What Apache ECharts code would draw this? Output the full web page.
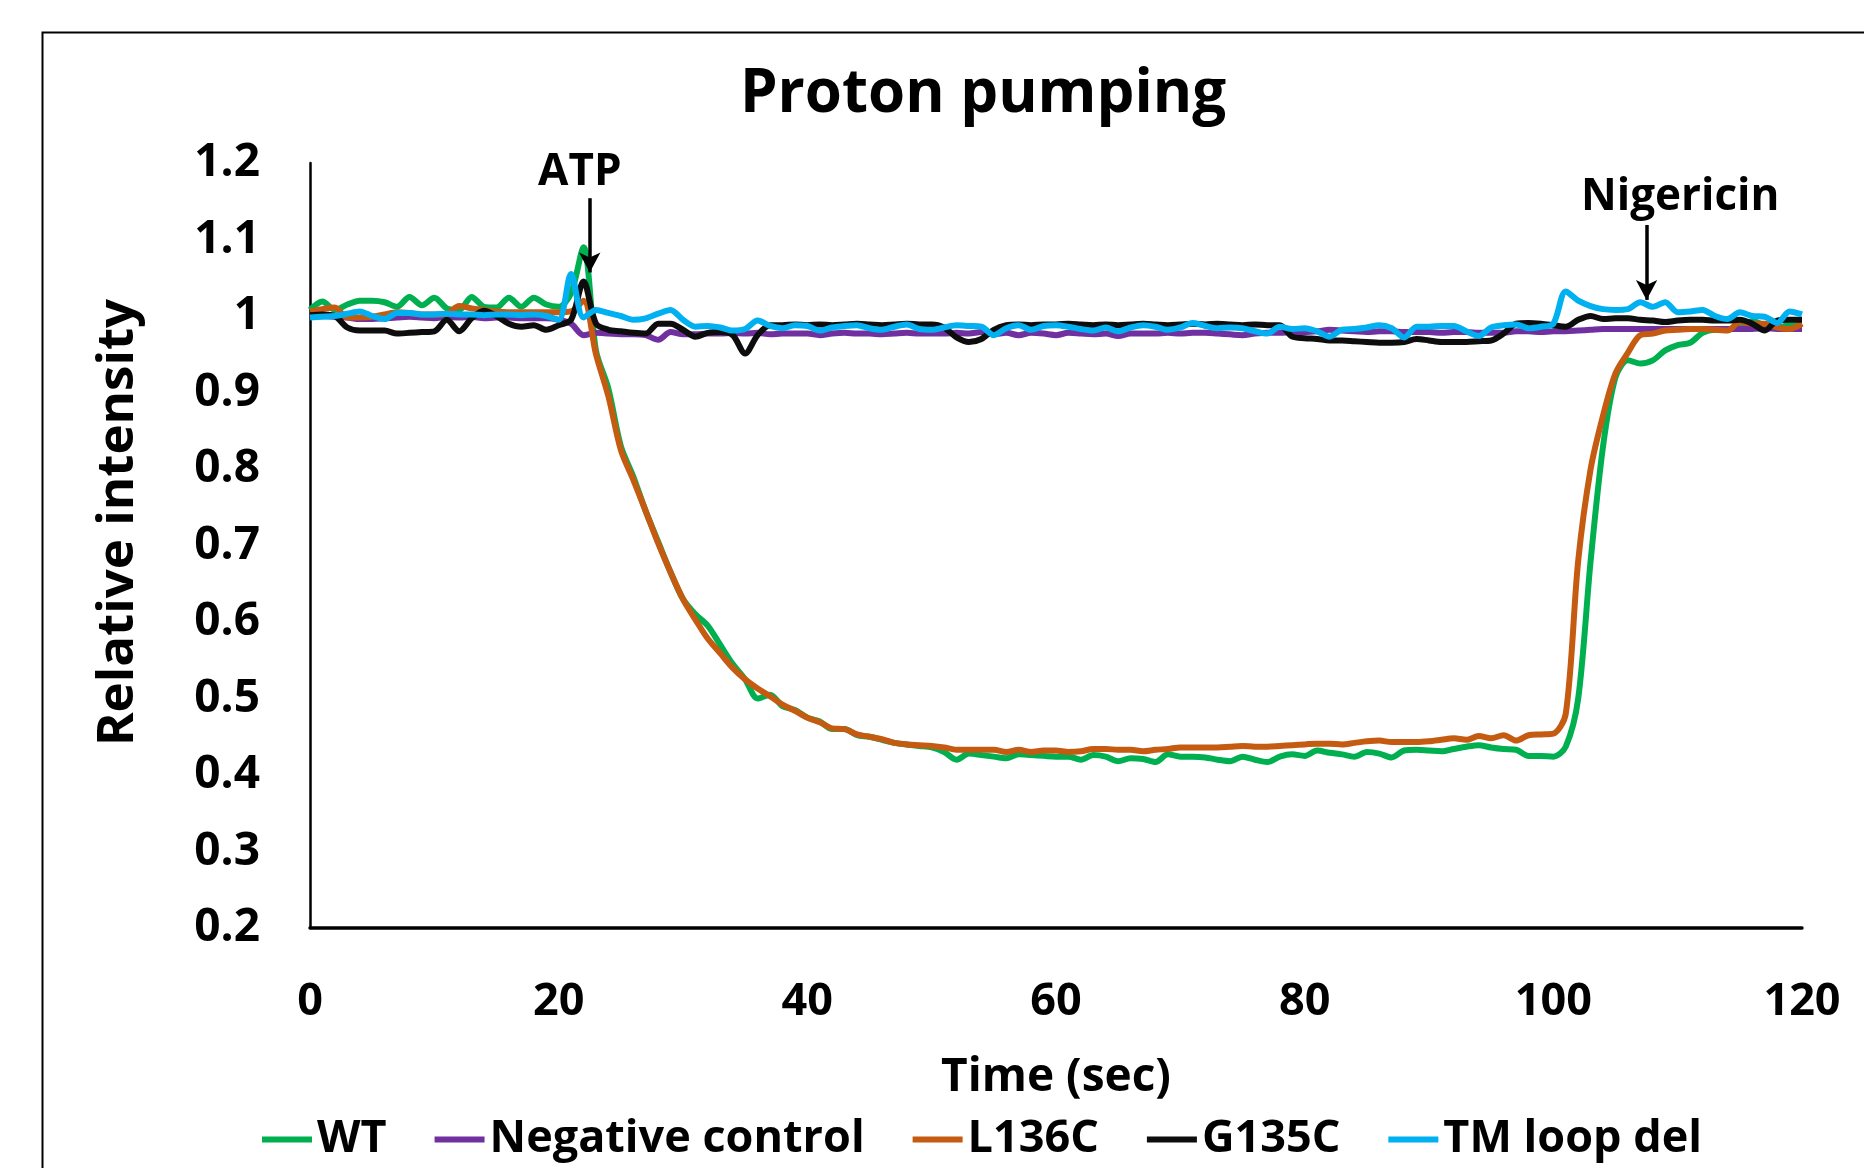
<!DOCTYPE html>
<html lang="en">
<head>
    <meta charset="UTF-8">
    <title>Proton pumping</title>
    <script src="https://cdn.jsdelivr.net/npm/echarts@6/dist/echarts.min.js"></script>
    <style>
        html, body { margin: 0; padding: 0; background: #fff; }
        #main { width: 1864px; height: 1168px; }
    </style>
</head>
<body>
<div id="main"></div>
<script type="text/javascript">
    // series names (legend order = draw order)
    var seriesNames = ['WT', 'Negative control', 'L136C', 'G135C', 'TM loop del'];
    var seriesColors = ['#00B050', '#7030A0', '#C55A11', '#0D0D0D', '#00B0F0'];

    // time axis, one reading per second (0..120)
    var times = [];
    for (var s = 0; s <= 120; s++) times.push(s);

    var wt = [
        1.008, 1.019, 1.008, 1.015, 1.020, 1.020, 1.018, 1.012, 1.025, 1.014,
        1.024, 1.010, 1.008, 1.025, 1.012, 1.011, 1.024, 1.012, 1.024, 1.015,
        1.012, 1.030, 1.090, 0.955, 0.905, 0.830, 0.790, 0.745, 0.705, 0.665,
        0.630, 0.610, 0.595, 0.570, 0.545, 0.525, 0.500, 0.505, 0.490, 0.485,
        0.475, 0.470, 0.460, 0.460, 0.452, 0.450, 0.446, 0.442, 0.440, 0.438,
        0.436, 0.430, 0.420, 0.428, 0.426, 0.424, 0.422, 0.427, 0.426, 0.425,
        0.424, 0.424, 0.420, 0.426, 0.424, 0.418, 0.422, 0.421, 0.417, 0.427,
        0.424, 0.424, 0.423, 0.420, 0.418, 0.424, 0.420, 0.417, 0.424, 0.427,
        0.425, 0.432, 0.429, 0.427, 0.424, 0.430, 0.428, 0.423, 0.432, 0.433,
        0.432, 0.431, 0.434, 0.437, 0.439, 0.436, 0.434, 0.433, 0.425, 0.425,
        0.424, 0.437, 0.500, 0.680, 0.830, 0.920, 0.942, 0.938, 0.942, 0.955,
        0.962, 0.965, 0.978, 0.982, 0.982, 0.986, 0.993, 0.988, 0.985, 0.988,
        0.988
    ];
    var negativeControl = [
        1.000, 1.000, 0.999, 0.998, 0.996, 0.996, 0.997, 0.998, 0.999, 0.998,
        0.997, 0.999, 0.998, 0.999, 0.997, 0.998, 0.998, 0.997, 0.997, 0.997,
        0.995, 0.990, 0.975, 0.978, 0.977, 0.976, 0.976, 0.975, 0.969, 0.979,
        0.976, 0.976, 0.977, 0.977, 0.978, 0.977, 0.978, 0.976, 0.977, 0.977,
        0.977, 0.975, 0.977, 0.978, 0.977, 0.977, 0.976, 0.977, 0.978, 0.977,
        0.977, 0.977, 0.978, 0.977, 0.979, 0.976, 0.978, 0.975, 0.978, 0.977,
        0.975, 0.978, 0.977, 0.976, 0.977, 0.974, 0.977, 0.977, 0.977, 0.978,
        0.977, 0.978, 0.978, 0.977, 0.976, 0.975, 0.977, 0.978, 0.978, 0.979,
        0.979, 0.980, 0.982, 0.981, 0.980, 0.979, 0.980, 0.980, 0.979, 0.979,
        0.979, 0.978, 0.979, 0.979, 0.978, 0.978, 0.978, 0.980, 0.980, 0.979,
        0.980, 0.980, 0.981, 0.982, 0.983, 0.983, 0.983, 0.983, 0.983, 0.983,
        0.983, 0.983, 0.983, 0.983, 0.983, 0.983, 0.983, 0.984, 0.983, 0.983,
        0.983
    ];
    var l136c = [
        1.006, 1.009, 1.011, 0.998, 0.998, 0.999, 1.002, 1.005, 1.004, 1.002,
        1.002, 1.003, 1.013, 1.010, 1.008, 1.006, 1.005, 1.005, 1.005, 1.005,
        1.005, 1.006, 1.020, 0.950, 0.895, 0.825, 0.786, 0.745, 0.703, 0.665,
        0.630, 0.603, 0.578, 0.559, 0.540, 0.525, 0.513, 0.503, 0.492, 0.484,
        0.475, 0.469, 0.461, 0.460, 0.453, 0.450, 0.447, 0.442, 0.440, 0.439,
        0.438, 0.436, 0.433, 0.433, 0.433, 0.433, 0.430, 0.433, 0.430, 0.432,
        0.432, 0.430, 0.431, 0.434, 0.434, 0.433, 0.433, 0.431, 0.433, 0.434,
        0.436, 0.436, 0.436, 0.436, 0.437, 0.438, 0.437, 0.437, 0.438, 0.439,
        0.440, 0.441, 0.441, 0.440, 0.442, 0.444, 0.445, 0.443, 0.443, 0.443,
        0.444, 0.446, 0.448, 0.446, 0.451, 0.448, 0.452, 0.445, 0.452, 0.453,
        0.454, 0.480, 0.680, 0.800, 0.870, 0.925, 0.952, 0.975, 0.977, 0.981,
        0.982, 0.983, 0.983, 0.982, 0.981, 0.992, 0.990, 0.990, 0.985, 0.983,
        0.990
    ];
    var g135c = [
        1.001, 1.002, 1.000, 0.985, 0.981, 0.981, 0.981, 0.977, 0.978, 0.979,
        0.980, 0.995, 0.980, 0.997, 1.007, 1.000, 0.990, 0.986, 0.988, 0.982,
        0.988, 0.995, 1.045, 0.990, 0.982, 0.980, 0.978, 0.977, 0.990, 0.990,
        0.982, 0.973, 0.978, 0.979, 0.975, 0.951, 0.975, 0.988, 0.988, 0.989,
        0.988, 0.989, 0.988, 0.989, 0.990, 0.989, 0.988, 0.989, 0.990, 0.989,
        0.989, 0.985, 0.972, 0.966, 0.970, 0.982, 0.988, 0.989, 0.988, 0.989,
        0.989, 0.990, 0.989, 0.988, 0.989, 0.988, 0.989, 0.990, 0.989, 0.988,
        0.989, 0.990, 0.989, 0.990, 0.989, 0.988, 0.989, 0.988, 0.988, 0.973,
        0.971, 0.970, 0.968, 0.968, 0.967, 0.966, 0.965, 0.965, 0.966, 0.970,
        0.968, 0.966, 0.966, 0.966, 0.967, 0.968, 0.977, 0.990, 0.991, 0.990,
        0.988, 0.986, 0.995, 1.000, 0.996, 0.997, 0.997, 0.995, 0.994, 0.992,
        0.994, 0.995, 0.995, 0.994, 0.994, 0.995, 0.990, 0.981, 0.994, 0.995,
        0.995
    ];
    var tmLoopDel = [
        0.998, 0.999, 1.000, 1.003, 1.006, 1.000, 0.996, 1.004, 1.004, 1.002,
        1.002, 1.003, 1.002, 1.002, 1.001, 1.002, 1.002, 1.001, 1.002, 1.000,
        0.995, 1.055, 0.998, 1.008, 1.004, 1.000, 0.995, 0.997, 1.003, 1.008,
        0.995, 0.986, 0.987, 0.985, 0.981, 0.983, 0.994, 0.987, 0.984, 0.988,
        0.987, 0.981, 0.985, 0.987, 0.988, 0.984, 0.982, 0.986, 0.989, 0.983,
        0.982, 0.985, 0.988, 0.987, 0.986, 0.975, 0.984, 0.988, 0.982, 0.987,
        0.988, 0.986, 0.983, 0.981, 0.985, 0.980, 0.985, 0.988, 0.986, 0.982,
        0.985, 0.991, 0.987, 0.984, 0.985, 0.984, 0.980, 0.977, 0.986, 0.983,
        0.984, 0.980, 0.973, 0.982, 0.983, 0.985, 0.988, 0.984, 0.972, 0.986,
        0.986, 0.987, 0.987, 0.980, 0.974, 0.985, 0.988, 0.989, 0.984, 0.986,
        0.990, 1.032, 1.020, 1.013, 1.009, 1.008, 1.009, 1.018, 1.012, 1.018,
        1.005, 1.006, 1.008, 1.000, 0.996, 1.005, 1.000, 0.999, 0.991, 1.006,
        1.002
    ];
    var allValues = [wt, negativeControl, l136c, g135c, tmLoopDel];

    // annotation arrows: [time, from value, to value] and their labels
    var arrows = [[22.5, 1.154, 1.057], [107.5, 1.119, 1.021]];
    var arrowLabels = [['ATP', 21.7, 1.188], ['Nigericin', 110.2, 1.155]];

    var font = 'Open Sans';

    function pairs(vals) {
        return times.map(function (t, i) { return [t, vals[i]]; });
    }

    var series = seriesNames.map(function (name, k) {
        return {
            name: name,
            type: 'line',
            data: pairs(allValues[k]),
            showSymbol: false,
            smooth: 0.3,
            lineStyle: { color: seriesColors[k], width: 6 },
            itemStyle: { color: seriesColors[k] }
        };
    });

    // arrows + labels
    series.push({
        name: 'notes',
        type: 'line',
        data: [],
        silent: true,
        markLine: {
            silent: true,
            symbol: ['none', 'arrow'],
            symbolSize: [16, 20],
            label: { show: false },
            lineStyle: { color: '#000', width: 3.5, type: 'solid' },
            data: arrows.map(function (a) {
                return [{ coord: [a[0], a[1]] }, { coord: [a[0], a[2]] }];
            })
        },
        markPoint: {
            silent: true,
            symbol: 'rect',
            symbolSize: 1,
            itemStyle: { color: 'rgba(0,0,0,0)' },
            label: {
                show: true,
                position: 'inside',
                formatter: '{b}',
                color: '#000',
                fontFamily: font,
                fontWeight: 'bold',
                fontSize: 44
            },
            data: arrowLabels.map(function (a) {
                return { name: a[0], coord: [a[1], a[2]] };
            })
        }
    });

    var myChart = echarts.init(document.getElementById('main'));
    var option = {
        animation: false,
        backgroundColor: '#fff',
        title: {
            text: 'Proton pumping',
            left: 978,
            textAlign: 'center',
            top: 60,
            textStyle: { fontFamily: font, fontWeight: 'bold', fontSize: 60, color: '#000' }
        },
        legend: {
            data: seriesNames,
            left: 257,
            top: 1112,
            icon: 'rect',
            itemWidth: 50,
            itemHeight: 6,
            itemGap: 48,
            textStyle: { fontFamily: font, fontWeight: 'bold', fontSize: 45, color: '#000' }
        },
        grid: { left: 310, right: 62, top: 163, bottom: 240 },
        xAxis: {
            type: 'value',
            min: 0,
            max: 120,
            interval: 20,
            name: 'Time (sec)',
            nameLocation: 'middle',
            nameGap: 127,
            nameTextStyle: { fontFamily: font, fontWeight: 'bold', fontSize: 46, color: '#000' },
            axisLine: { lineStyle: { color: '#000', width: 3.5 } },
            axisTick: { show: false },
            splitLine: { show: false },
            axisLabel: { margin: 52, fontFamily: font, fontWeight: 'bold', fontSize: 45, color: '#000' }
        },
        yAxis: {
            type: 'value',
            min: 0.2,
            max: 1.2,
            interval: 0.1,
            name: 'Relative intensity',
            nameLocation: 'middle',
            nameGap: 166,
            nameTextStyle: { fontFamily: font, fontWeight: 'bold', fontSize: 51, color: '#000', padding: [0, 0, 0, 46] },
            axisLine: { show: true, lineStyle: { color: '#000', width: 2.5 } },
            axisTick: { show: false },
            splitLine: { show: false },
            axisLabel: { margin: 50, fontFamily: font, fontWeight: 'bold', fontSize: 46, color: '#000' }
        },
        graphic: [{
            type: 'rect',
            left: 40,
            top: 30,
            silent: true,
            shape: { width: 1900, height: 1200 },
            style: { fill: 'none', stroke: '#000', lineWidth: 2 }
        }],
        series: series
    };
    myChart.setOption(option);
</script>
</body>
</html>
